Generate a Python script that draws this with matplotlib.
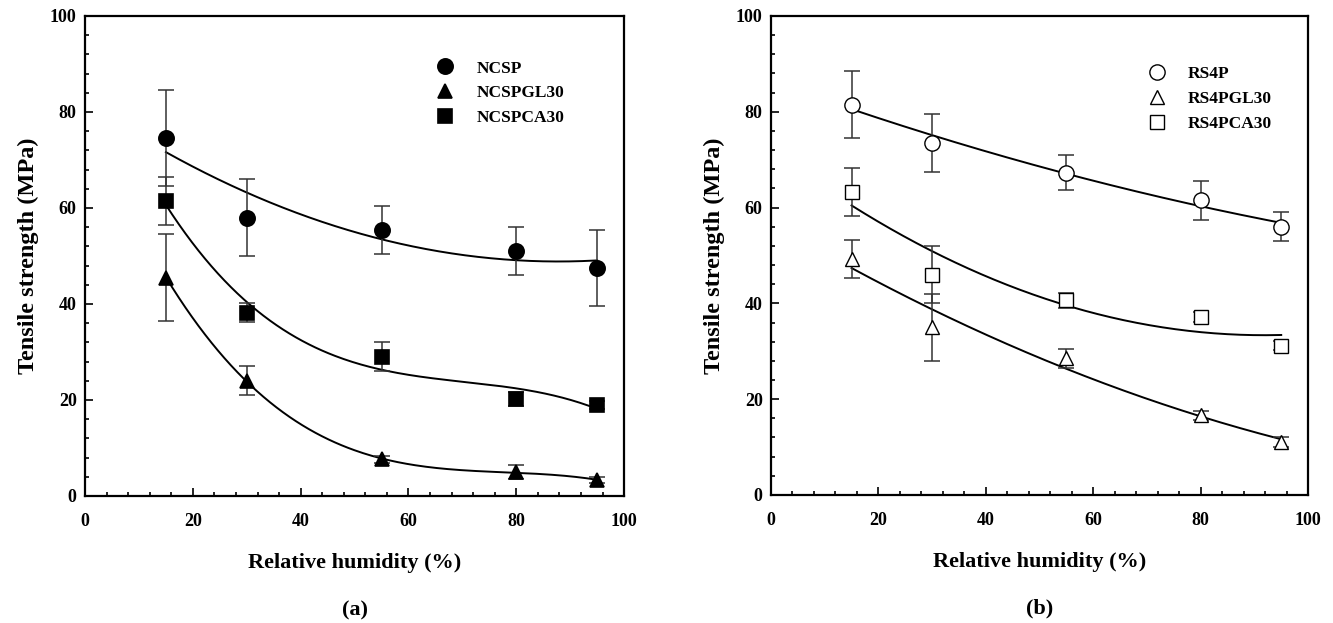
import numpy as np
import matplotlib
matplotlib.use("Agg")
import matplotlib.pyplot as plt
from matplotlib.ticker import MultipleLocator

plt.rcParams['font.family'] = ['Liberation Serif', 'DejaVu Serif']
plt.rcParams['font.weight'] = 'bold'

# relative humidity (%)
rh = [15, 30, 55, 80, 95]

# panel (a): tensile strength (MPa) and error bars
ncsp = [74.5, 58.0, 55.5, 51.0, 47.5]
ncsp_err = [10.0, 8.0, 5.0, 5.0, 8.0]
ncspgl30 = [45.5, 24.0, 7.6, 5.0, 3.3]
ncspgl30_err = [9.0, 3.0, 0.8, 1.5, 0.6]
ncspca30 = [61.5, 38.2, 29.0, 20.2, 19.0]
ncspca30_err = [5.0, 2.0, 3.0, 1.5, 0.8]

# panel (b)
rs4p = [81.5, 73.5, 67.3, 61.5, 56.0]
rs4p_err = [7.0, 6.0, 3.7, 4.0, 3.0]
rs4pgl30 = [49.3, 35.0, 28.5, 16.6, 11.1]
rs4pgl30_err = [4.0, 7.0, 2.0, 1.0, 1.0]
rs4pca30 = [63.3, 46.0, 40.6, 37.2, 31.2]
rs4pca30_err = [5.0, 6.0, 1.5, 1.0, 1.0]


def draw_series(ax, y, yerr, marker, filled, label, deg):
    x = np.array(rh, dtype=float)
    y = np.array(y, dtype=float)
    ax.errorbar(x, y, yerr=yerr, fmt='none', ecolor='#333333', elinewidth=1.1,
                capsize=6, capthick=1.1, zorder=2)
    ax.plot(x, y, linestyle='none', marker=marker, markersize=11 if marker == 'o' else 10,
            markerfacecolor='black' if filled else 'white', markeredgecolor='black',
            markeredgewidth=1.2 if filled else 1.0, label=label, zorder=3)
    # polynomial trend line fitted to the points
    coef = np.polyfit(x, y, deg)
    xs = np.linspace(x.min(), x.max(), 200)
    ax.plot(xs, np.polyval(coef, xs), color='black', lw=1.4, zorder=1)


def style_axes(ax, tag, leg_x, leg_y):
    ax.set_xlim(0, 100)
    ax.set_ylim(0, 100)
    ax.xaxis.set_major_locator(MultipleLocator(20))
    ax.xaxis.set_minor_locator(MultipleLocator(4))
    ax.yaxis.set_major_locator(MultipleLocator(20))
    ax.yaxis.set_minor_locator(MultipleLocator(4))
    ax.tick_params(which='both', direction='in', top=False, right=False, labelsize=13, width=1.2)
    ax.tick_params(which='major', length=6)
    ax.tick_params(axis='x', which='major', pad=12)
    ax.tick_params(axis='y', which='major', pad=6)
    ax.tick_params(which='minor', length=3)
    for sp in ax.spines.values():
        sp.set_linewidth(1.6)
    ax.set_xlabel('Relative humidity (%)', fontsize=16, fontweight='bold', labelpad=17)
    ax.set_ylabel('Tensile strength (MPa)', fontsize=17.5, fontweight='bold', labelpad=8)
    ax.text(0.5, -0.238, tag, transform=ax.transAxes, ha='center', va='center',
            fontsize=16, fontweight='bold')
    leg = ax.legend(loc='upper left', bbox_to_anchor=(leg_x, leg_y), frameon=False,
                    fontsize=12.5, handletextpad=1.3, labelspacing=0.5, handlelength=1.0)
    for t in leg.get_texts():
        t.set_fontweight('bold')


fig = plt.figure(figsize=(13.33, 6.23), dpi=100)
ax1 = fig.add_axes([0.0638, 0.2039, 0.4044, 0.7705])
ax2 = fig.add_axes([0.5784, 0.2055, 0.4029, 0.7689])

draw_series(ax1, ncsp, ncsp_err, 'o', True, 'NCSP', 2)
draw_series(ax1, ncspgl30, ncspgl30_err, '^', True, 'NCSPGL30', 3)
draw_series(ax1, ncspca30, ncspca30_err, 's', True, 'NCSPCA30', 3)
style_axes(ax1, '(a)', 0.623, 0.94)

draw_series(ax2, rs4p, rs4p_err, 'o', False, 'RS4P', 2)
draw_series(ax2, rs4pgl30, rs4pgl30_err, '^', False, 'RS4PGL30', 2)
draw_series(ax2, rs4pca30, rs4pca30_err, 's', False, 'RS4PCA30', 2)
style_axes(ax2, '(b)', 0.673, 0.928)

fig.savefig('out.png', dpi=100)
